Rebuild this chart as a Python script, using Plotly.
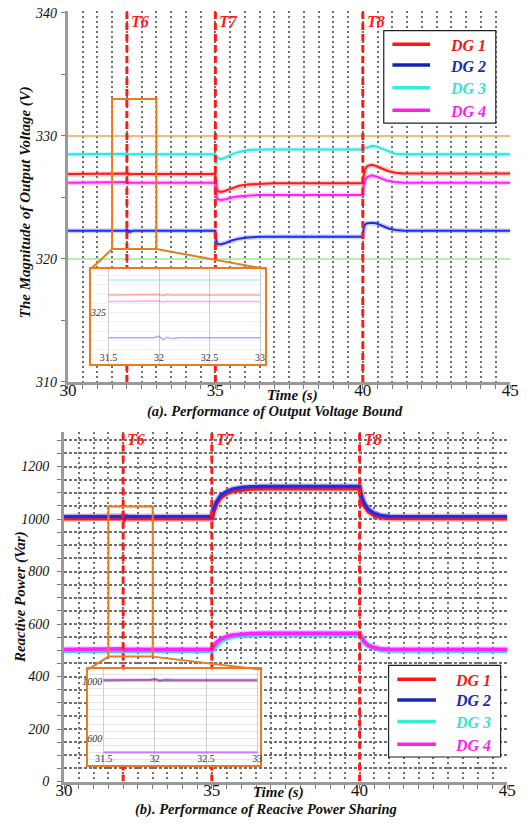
import plotly.graph_objects as go

# ---------------- data ----------------
# Output voltage magnitude of each DG (V) at the breakpoints in t_v (s)
t_v = [30.0, 31.5, 31.95, 32.0, 32.04, 32.08, 32.13, 32.2, 33.0, 35.0,
       35.03, 35.06, 35.1, 35.2, 35.35, 35.55, 35.8, 36.1, 36.5, 37.0,
       40.0, 40.03, 40.08, 40.15, 40.3, 40.45, 40.65, 40.85, 41.1, 41.4, 45.0]
v_dg1 = [326.9, 326.9, 326.9, 326.95, 326.85, 326.95, 326.88, 326.9, 326.9, 326.9,
         325.9, 325.6, 325.5, 325.45, 325.55, 325.75, 325.95, 326.05, 326.1, 326.15,
         326.15, 326.8, 327.3, 327.55, 327.65, 327.55, 327.35, 327.15, 327.0, 326.95, 326.95]
v_dg2 = [322.3, 322.3, 322.3, 322.45, 322.1, 322.35, 322.2, 322.3, 322.3, 322.3,
         321.5, 321.25, 321.2, 321.2, 321.3, 321.5, 321.65, 321.75, 321.8, 321.8,
         321.8, 322.5, 322.8, 322.9, 322.95, 322.9, 322.7, 322.5, 322.35, 322.3, 322.3]
v_dg3 = [328.5, 328.5, 328.5, 328.55, 328.47, 328.53, 328.5, 328.5, 328.5, 328.5,
         327.7, 328.3, 328.2, 328.1, 328.25, 328.5, 328.7, 328.85, 328.9, 328.9,
         328.9, 329.15, 329.0, 329.05, 329.2, 329.15, 328.95, 328.75, 328.55, 328.5, 328.5]
v_dg4 = [326.2, 326.2, 326.2, 326.25, 326.15, 326.23, 326.2, 326.2, 326.2, 326.2,
         325.2, 324.95, 324.85, 324.8, 324.85, 325.0, 325.1, 325.15, 325.2, 325.2,
         325.2, 325.9, 326.4, 326.65, 326.8, 326.7, 326.5, 326.35, 326.25, 326.2, 326.2]

# Voltage bounds (V)
v_upper = 330
v_lower = 320

# Reactive power of each DG (Var) at the breakpoints in t_q (s)
t_q = [30.0, 31.5, 31.95, 32.0, 32.05, 32.1, 32.2, 33.0, 35.0, 35.05,
       35.15, 35.3, 35.5, 35.7, 36.0, 36.3, 36.7, 40.0, 40.05, 40.15,
       40.3, 40.5, 40.7, 41.0, 45.0]
q_dg1 = [1003, 1003, 1003, 1008, 1000, 1005, 1003, 1003, 1003, 1028,
         1058, 1083, 1099, 1108, 1113, 1116, 1117, 1117, 1085, 1055,
         1030, 1015, 1008, 1004, 1003]
q_dg2 = [1010, 1010, 1010, 1016, 1006, 1012, 1010, 1010, 1010, 1035,
         1065, 1090, 1106, 1115, 1121, 1124, 1125, 1125, 1092, 1062,
         1037, 1022, 1015, 1011, 1010]
q_dg3 = [498, 498, 498, 500, 497, 499, 498, 498, 498, 506,
         520, 535, 547, 553, 557, 559, 560, 560, 548, 532,
         518, 508, 502, 499, 498]
q_dg4 = [503, 503, 503, 506, 501, 504, 503, 503, 503, 514,
         530, 543, 553, 558, 562, 564, 565, 565, 551, 533,
         518, 510, 506, 504, 503]

series_names = ["DG 1", "DG 2", "DG 3", "DG 4"]
event_times = [32, 35, 40]
event_labels = ["T6", "T7", "T8"]

t_ticks = [30, 35, 40, 45]
v_ticks = [310, 320, 330, 340]
q_ticks = [0, 200, 400, 600, 800, 1000, 1200]
inset_t_ticks = [31.5, 32, 32.5, 33]
inset_v_ticks = [325]
inset_q_ticks = [600, 1000]

# zoomed windows shown in the insets
zoom_t = [31.5, 33.0]
zoom_v = [320.8, 333.0]
zoom_q = [476, 1048]

# ---------------- styling ----------------
SERIF = "Liberation Serif"
W, H = 527, 826
line_colors = ["#ff1a1a", "#1e2ee6", "#2be8e8", "#ff22ff"]
legend_colors = ["#ff1414", "#1424b4", "#33efd2", "#ff1eee"]
text_colors = ["#f01818", "#1a28b8", "#2fe6d0", "#ff1ef0"]
ORANGE = "#ea7b1f"
EVENT_RED = "#ff1a1a"
GRID = "#707070"
AXIS = "#9a9a9a"


def fx(p):
    return p / W


def fy(p):
    return 1 - p / H


# pixel boxes (left, right, top, bottom)
TOP = (61, 519, 6, 383)
BOT = (57, 516, 434, 789)
INS_TOP = (85, 265, 268, 365)
INS_BOT = (82, 260, 675, 772)

t_range = [30, 45]
v_range = [310, 340.16]
q_range = [0, 1331]
ins_t_range_top = [31.328, 33.048]
ins_v_range = [319.44, 329.71]
ins_t_range_bot = [31.349, 33.028]
ins_q_range = [414, 1082.5]


def to_paper(box, xr, yr, x, y):
    left, right, top, bottom = box
    px = left + (x - xr[0]) / (xr[1] - xr[0]) * (right - left)
    py = bottom - (y - yr[0]) / (yr[1] - yr[0]) * (bottom - top)
    return fx(px), fy(py)


fig = go.Figure()


def add_line(x, y, color, width, xa, ya, opacity=1.0, dash=None):
    fig.add_trace(go.Scatter(
        x=x, y=y, mode="lines",
        line=dict(color=color, width=width, dash=dash),
        opacity=opacity, xaxis=xa, yaxis=ya,
        hoverinfo="skip", showlegend=False))


def window(t, y, lo, hi):
    pts = [(a, b) for a, b in zip(t, y) if lo <= a <= hi]
    return [p[0] for p in pts], [p[1] for p in pts]


v_series = [v_dg1, v_dg2, v_dg3, v_dg4]
q_series = [q_dg1, q_dg2, q_dg3, q_dg4]

# ---- (a) output voltage ----
add_line(t_range, [v_upper, v_upper], "#f0a264", 1.5, "x", "y")
add_line(t_range, [v_lower, v_lower], "#9ae89a", 1.5, "x", "y")
for vals, c in zip(v_series, line_colors):
    add_line(t_v, vals, c, 5, "x", "y", opacity=0.22)
    add_line(t_v, vals, c, 2, "x", "y")
for te in event_times:
    add_line([te, te], v_range, EVENT_RED, 3, "x", "y", dash="7px,4px")

# ---- (b) reactive power ----
q_widths = [4.5, 3, 4.5, 3.5]
for vals, c, w in zip(q_series, line_colors, q_widths):
    add_line(t_q, vals, c, w + 3, "x2", "y2", opacity=0.25)
    add_line(t_q, vals, c, w, "x2", "y2")
for te in event_times:
    add_line([te, te], q_range, EVENT_RED, 3, "x2", "y2", dash="7px,4px")

# ---- insets ----
for vals, c in zip(v_series, line_colors):
    xs, ys = window(t_v, vals, zoom_t[0], zoom_t[1])
    add_line(xs, ys, c, 1.5, "x3", "y3", opacity=0.38)
for vals, c in zip(q_series, line_colors):
    xs, ys = window(t_q, vals, zoom_t[0], zoom_t[1])
    add_line(xs, ys, c, 2, "x4", "y4", opacity=0.5)


def main_x(box, ticks):
    return dict(
        domain=[fx(box[0]), fx(box[1])], range=t_range,
        tickmode="array", tickvals=ticks, ticktext=[str(v) for v in ticks],
        tickfont=dict(family=SERIF, size=17, color="#111"),
        showline=True, linecolor=AXIS, linewidth=3,
        ticks="", ticklabelstandoff=-9,
        showgrid=True, gridcolor=GRID, gridwidth=1.5, griddash="2px,3px",
        minor=dict(tick0=30, dtick=0.5, ticks="outside", ticklen=4,
                   tickcolor="#777", showgrid=True, gridcolor=GRID,
                   gridwidth=1.5, griddash="2px,3px"),
        zeroline=False, fixedrange=True)


def inset_axis(dom, rng, ticks, italic, **extra):
    d = dict(
        domain=dom, range=rng, tickmode="array", tickvals=ticks,
        ticktext=[str(v) for v in ticks], ticklabelposition="outside",
        tickfont=dict(family=SERIF, size=10, color="#333",
                      style="italic" if italic else "normal"),
        ticks="", showline=True, mirror=True, linecolor=ORANGE, linewidth=2,
        zeroline=False, fixedrange=True)
    d.update(extra)
    return d


fig.update_layout(
    width=W, height=H, margin=dict(l=0, r=0, t=0, b=0),
    paper_bgcolor="white", plot_bgcolor="white", showlegend=False,
    font=dict(family=SERIF, color="#111"),
    xaxis=dict(main_x(TOP, t_ticks), anchor="y"),
    yaxis=dict(
        domain=[fy(TOP[3]), fy(TOP[2])], range=v_range, anchor="x",
        tickmode="array", tickvals=v_ticks,
        tickfont=dict(family=SERIF, size=14, style="italic", color="#111"),
        showline=True, linecolor=AXIS, linewidth=3, showgrid=False,
        ticks="", ticklabelstandoff=5,
        minor=dict(tick0=310, dtick=5, ticks="outside", ticklen=4, tickcolor="#777"),
        zeroline=False, fixedrange=True),
    xaxis2=dict(main_x(BOT, t_ticks), anchor="y2"),
    yaxis2=dict(
        domain=[fy(BOT[3]), fy(BOT[2])], range=q_range, anchor="x2",
        tickmode="array", tickvals=q_ticks,
        tickfont=dict(family=SERIF, size=14, style="italic", color="#111"),
        showline=True, linecolor=AXIS, linewidth=3,
        showgrid=True, gridcolor=GRID, gridwidth=1.5, griddash="3px,2px",
        ticks="outside", ticklen=4, tickcolor="#777", ticklabelstandoff=5,
        minor=dict(tick0=0, dtick=50, ticks="outside", ticklen=4, tickcolor="#777",
                   showgrid=True, gridcolor=GRID, gridwidth=1.5, griddash="3px,2px"),
        zeroline=False, fixedrange=True),
    xaxis3=inset_axis([fx(INS_TOP[0]), fx(INS_TOP[1])], ins_t_range_top,
                      inset_t_ticks, False, anchor="y3", showgrid=True,
                      gridcolor="#cdcdcd", gridwidth=1, ticklabelstandoff=-17),
    yaxis3=inset_axis([fy(INS_TOP[3]), fy(INS_TOP[2])], ins_v_range,
                      inset_v_ticks, True, anchor="x3", showgrid=False,
                      ticklabelstandoff=-19,
                      minor=dict(tick0=320, dtick=1, showgrid=True,
                                 gridcolor="#f2f2f2", gridwidth=1)),
    xaxis4=inset_axis([fx(INS_BOT[0]), fx(INS_BOT[1])], ins_t_range_bot,
                      inset_t_ticks, False, anchor="y4", showgrid=True,
                      gridcolor="#cdcdcd", gridwidth=1, ticklabelstandoff=-17),
    yaxis4=inset_axis([fy(INS_BOT[3]), fy(INS_BOT[2])], ins_q_range,
                      inset_q_ticks, True, anchor="x4", showgrid=False,
                      ticklabelstandoff=-18,
                      minor=dict(tick0=0, dtick=50, showgrid=True,
                                 gridcolor="#e6e6e6", gridwidth=1)),
)

shapes = []
annotations = []

# zoom rectangles and connectors to the inset boxes
for xr_name, yr_name, box, yr, zv, ins in [
        ("x", "y", TOP, v_range, zoom_v, INS_TOP),
        ("x2", "y2", BOT, q_range, zoom_q, INS_BOT)]:
    shapes.append(dict(type="rect", xref=xr_name, yref=yr_name,
                       x0=zoom_t[0], x1=zoom_t[1], y0=zv[0], y1=zv[1],
                       line=dict(color=ORANGE, width=2), layer="above"))
    for zx, ix in [(zoom_t[0], ins[0]), (zoom_t[1], ins[1])]:
        px, py = to_paper(box, t_range, yr, zx, zv[0])
        shapes.append(dict(type="line", xref="paper", yref="paper",
                           x0=px, y0=py, x1=fx(ix), y1=fy(ins[2]),
                           line=dict(color=ORANGE, width=2), layer="above"))


def draw_legend(box, rows, line_x, text_x):
    left, right, top, bottom = box
    shapes.append(dict(type="rect", xref="paper", yref="paper",
                       x0=fx(left), x1=fx(right), y0=fy(bottom), y1=fy(top),
                       fillcolor="white", line=dict(color="#222", width=1.2),
                       layer="above"))
    for name, ry, lc, tc in zip(series_names, rows, legend_colors, text_colors):
        shapes.append(dict(type="line", xref="paper", yref="paper",
                           x0=fx(line_x[0]), x1=fx(line_x[1]), y0=fy(ry), y1=fy(ry),
                           line=dict(color=lc, width=3.5), layer="above"))
        annotations.append(dict(text="<b><i>%s</i></b>" % name, xref="paper", yref="paper",
                                x=fx(text_x), y=fy(ry + 1), xanchor="left", yanchor="middle",
                                showarrow=False, font=dict(family=SERIF, size=16, color=tc)))


draw_legend((388, 504, 26, 120), [40, 61, 84, 107], (397, 436), 455)
draw_legend((393, 509, 671, 764), [685, 706, 728, 751], (402, 442), 460)

# event labels
for te, lab in zip(event_times, event_labels):
    for xa, ypx in [("x", 17), ("x2", 441)]:
        annotations.append(dict(text="<b><i>%s</i></b>" % lab, xref=xa, yref="paper",
                                x=te, y=fy(ypx), xanchor="left", yanchor="middle",
                                xshift=2, showarrow=False,
                                font=dict(family=SERIF, size=16, color=EVENT_RED)))


def label(text, xp, yp, size, angle=0):
    annotations.append(dict(text="<b><i>%s</i></b>" % text, xref="paper", yref="paper",
                            x=fx(xp), y=fy(yp), xanchor="center", yanchor="middle",
                            textangle=angle, showarrow=False,
                            font=dict(family=SERIF, size=size, color="#111")))


label("Time (s)", 294, 397, 15)
label("(a). Performance of Output Voltage Bound", 275, 413, 14.5)
label("The Magnitude of Output Voltage (V)", 17, 200, 15, -90)
label("Time (s)", 279, 800, 15)
label("(b). Performance of Reacive Power Sharing", 266, 817, 14.5)
label("Reactive Power (Var)", 12, 602, 15, -90)

fig.update_layout(shapes=shapes, annotations=annotations)
fig.write_html("out.html")
